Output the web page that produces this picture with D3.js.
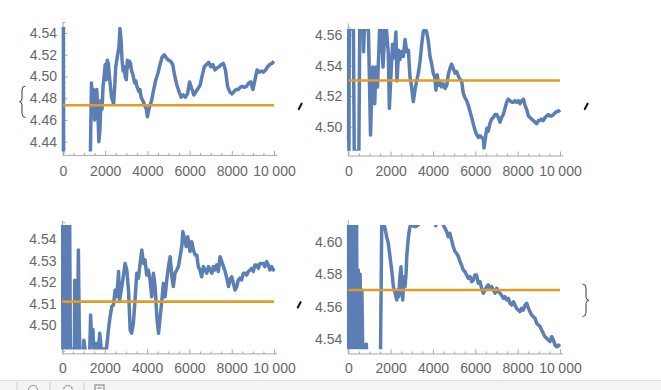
<!DOCTYPE html>
<html><head><meta charset="utf-8">
<script src="https://cdn.jsdelivr.net/npm/d3@7"></script>
<style>html,body{margin:0;padding:0;background:#fff;}svg{display:block;}</style>
</head><body>
<script>
// ---------- data ----------
const xTickValues = [0, 2000, 4000, 6000, 8000, 10000];
const yTicks1 = [4.44, 4.46, 4.48, 4.50, 4.52, 4.54];
const yTicks2 = [4.50, 4.52, 4.54, 4.56];
const yTicks3 = [4.50, 4.51, 4.52, 4.53, 4.54];
const yTicks4 = [4.54, 4.56, 4.58, 4.60];
const means = [4.4736, 4.5302, 4.511, 4.5703];

const p1x = [0,8,18,28,40,1250,1300,1350,1400,1450,1500,1550,1600,1650,1700,1750,1800,1850,1900,1950,2000,2050,2100,2150,2200,2300,2400,2450,2500,2600,2650,2700,2750,2800,2850,2900,2950,3000,3050,3100,3150,3200,3250,3300,3350,3400,3450,3500,3600,3650,3700,3800,3900,3950,4000,4050,4100,4200,4300,4400,4500,4600,4700,4800,4900,5000,5100,5200,5300,5400,5500,5600,5700,5800,5900,6000,6100,6200,6300,6400,6500,6600,6700,6800,6900,7000,7100,7200,7300,7400,7500,7600,7700,7800,7900,8000,8100,8200,8300,8400,8500,8600,8700,8800,8900,9000,9100,9200,9300,9400,9500,9600,9700,9800,9900,10000];
const p1y = [4.56,4.42,4.56,4.42,4.42,4.42,4.431,4.494,4.469,4.488,4.46,4.475,4.488,4.47,4.44,4.451,4.478,4.47,4.491,4.50,4.511,4.497,4.515,4.512,4.50,4.481,4.475,4.49,4.509,4.521,4.527,4.544,4.534,4.515,4.505,4.509,4.50,4.497,4.515,4.509,4.514,4.512,4.505,4.503,4.498,4.494,4.496,4.491,4.486,4.488,4.481,4.477,4.472,4.47,4.463,4.468,4.472,4.478,4.488,4.497,4.503,4.511,4.518,4.52,4.517,4.515,4.514,4.511,4.50,4.492,4.486,4.481,4.483,4.481,4.484,4.495,4.489,4.483,4.486,4.489,4.492,4.501,4.509,4.511,4.513,4.509,4.511,4.506,4.508,4.509,4.511,4.512,4.506,4.491,4.486,4.484,4.486,4.488,4.488,4.49,4.491,4.49,4.491,4.494,4.495,4.488,4.497,4.506,4.504,4.505,4.504,4.506,4.509,4.511,4.512,4.514];

const p2x = [0,15,30,45,240,280,500,540,700,720,760,950,1000,1050,1100,1150,1250,1300,1380,1480,1560,1640,1730,1800,1890,1940,2000,2090,2160,2250,2300,2380,2440,2520,2600,2680,2760,2840,2910,2990,3070,3150,3230,3310,3390,3470,3540,3620,3700,3780,3860,3940,4015,4090,4140,4200,4270,4330,4410,4490,4570,4650,4720,4800,4880,4960,5040,5120,5200,5275,5350,5430,5510,5590,5670,5750,5830,5900,5980,6060,6140,6220,6300,6380,6410,6460,6540,6610,6690,6770,6850,6930,7010,7090,7170,7240,7320,7400,7480,7560,7640,7720,7800,7870,7950,8030,8110,8190,8270,8350,8430,8510,8580,8660,8740,8820,8900,8980,9060,9130,9210,9290,9370,9450,9530,9610,9690,9760,9840,9920,10000];
const p2y = [4.49,4.564,4.484,4.564,4.564,4.484,4.484,4.564,4.564,4.549,4.564,4.564,4.53,4.4945,4.52,4.539,4.515,4.539,4.526,4.564,4.564,4.539,4.564,4.564,4.548,4.512,4.530,4.554,4.545,4.562,4.530,4.55,4.544,4.549,4.546,4.557,4.549,4.55,4.533,4.526,4.5164,4.524,4.530,4.535,4.543,4.554,4.562,4.564,4.562,4.556,4.546,4.541,4.535,4.532,4.524,4.534,4.527,4.529,4.526,4.528,4.525,4.527,4.534,4.538,4.541,4.538,4.535,4.536,4.533,4.531,4.530,4.522,4.519,4.517,4.514,4.510,4.506,4.502,4.498,4.495,4.493,4.494,4.493,4.492,4.486,4.491,4.499,4.497,4.502,4.505,4.506,4.508,4.508,4.506,4.503,4.506,4.508,4.512,4.516,4.518,4.517,4.516,4.516,4.517,4.516,4.517,4.515,4.517,4.518,4.514,4.511,4.507,4.506,4.505,4.504,4.503,4.502,4.504,4.504,4.505,4.504,4.506,4.507,4.508,4.507,4.507,4.508,4.509,4.510,4.510,4.511];

const p3x = [0,20,45,70,100,130,160,190,220,250,280,310,340,370,420,480,560,580,600,640,700,750,790,830,980,1010,1060,1100,1280,1330,1380,1440,1480,1520,1600,1640,1700,1760,1830,2080,2170,2250,2330,2410,2490,2570,2650,2700,2780,2850,2960,3040,3120,3200,3270,3350,3430,3510,3590,3670,3750,3830,3900,3980,4060,4140,4220,4300,4380,4460,4540,4620,4700,4770,4850,4930,5010,5090,5170,5240,5320,5400,5480,5560,5640,5690,5750,5850,5920,6030,6110,6190,6270,6350,6420,6500,6580,6660,6740,6820,6900,6980,7060,7130,7210,7290,7370,7450,7530,7610,7690,7770,7850,7920,8000,8080,8160,8240,8310,8390,8470,8550,8630,8710,8790,8870,8940,9020,9100,9180,9260,9340,9420,9490,9570,9650,9730,9810,9890,9970,10000];
const p3y = [4.55,4.485,4.55,4.485,4.55,4.485,4.55,4.485,4.55,4.485,4.55,4.485,4.547,4.489,4.489,4.485,4.485,4.521,4.49,4.485,4.485,4.535,4.50,4.485,4.485,4.493,4.4895,4.485,4.485,4.5048,4.492,4.498,4.486,4.489,4.4916,4.489,4.489,4.4963,4.489,4.489,4.4978,4.504,4.5087,4.5095,4.5164,4.5133,4.525,4.5118,4.5164,4.5211,4.5288,4.5257,4.5164,4.4978,4.4963,4.5009,4.5118,4.5242,4.5219,4.5288,4.535,4.5288,4.5304,4.5234,4.5257,4.5211,4.5133,4.5242,4.518,4.504,4.4963,4.504,4.5118,4.5195,4.5133,4.5211,4.5273,4.5319,4.5226,4.518,4.5242,4.5257,4.5273,4.5319,4.5366,4.5436,4.5412,4.5366,4.5412,4.5343,4.5389,4.535,4.5327,4.5327,4.5273,4.5257,4.5226,4.5273,4.5257,4.5242,4.5273,4.5257,4.5242,4.5273,4.5257,4.5281,4.525,4.5319,4.5296,4.5273,4.525,4.5219,4.518,4.5211,4.5226,4.5195,4.5164,4.518,4.5211,4.5219,4.5211,4.5242,4.5242,4.5234,4.525,4.5257,4.5265,4.525,4.5281,4.5281,4.5265,4.5288,4.5288,4.5288,4.5273,4.5296,4.5281,4.5257,4.5273,4.5257,4.5265];

const p4x = [0,15,35,60,90,120,150,180,210,240,270,300,340,390,420,470,520,560,600,640,680,720,780,850,880,1520,1580,1650,1720,1810,1890,1970,2050,2130,2210,2290,2330,2380,2440,2490,2520,2570,2630,2680,2730,2760,2840,2910,2990,3070,3150,3230,3300,3340,4100,4130,4160,4460,4490,4570,4650,4720,4800,4880,4960,5040,5120,5200,5280,5350,5430,5510,5590,5670,5750,5830,5900,5980,6060,6140,6220,6300,6380,6460,6540,6610,6690,6770,6850,6930,7010,7090,7170,7240,7320,7400,7480,7560,7640,7720,7800,7870,7950,8030,8110,8190,8270,8350,8430,8510,8580,8660,8740,8820,8900,8980,9060,9130,9210,9290,9370,9450,9530,9610,9690,9760,9840,9920,10000];
const p4y = [4.62,4.53,4.62,4.53,4.62,4.53,4.62,4.53,4.62,4.53,4.62,4.53,4.5339,4.612,4.535,4.5826,4.5339,4.58,4.5339,4.5703,4.5339,4.537,4.5339,4.537,4.53,4.53,4.612,4.6102,4.6092,4.6031,4.599,4.5908,4.5826,4.5724,4.5683,4.5642,4.5703,4.5662,4.5785,4.5846,4.5744,4.5642,4.5785,4.5724,4.5805,4.5908,4.6031,4.6092,4.6102,4.6096,4.6092,4.6096,4.6102,4.615,4.615,4.6098,4.615,4.615,4.6102,4.6082,4.6061,4.6031,4.6051,4.601,4.5969,4.5939,4.5928,4.5908,4.5877,4.5857,4.5826,4.5816,4.5795,4.5775,4.5785,4.5754,4.5764,4.5795,4.5795,4.5744,4.5754,4.5713,4.5683,4.5703,4.5724,4.5734,4.5713,4.5724,4.5703,4.5683,4.5713,4.5693,4.5683,4.5672,4.5652,4.5662,4.5642,4.5652,4.5621,4.5611,4.5631,4.5611,4.559,4.558,4.557,4.559,4.558,4.5611,4.5621,4.559,4.557,4.5549,4.5539,4.5529,4.5498,4.5488,4.5478,4.5457,4.5437,4.5416,4.5406,4.5396,4.5386,4.5416,4.5396,4.5365,4.5355,4.5365,4.5355];

// ---------- layout ----------
const W = 661, H = 390;
const BLUE = "#5b7fb5", ORANGE = "#e19c24", AXIS = "#a8a8a8", LABEL = "#666";
const panels = [
  {xs:p1x, ys:p1y, mean:means[0], yt:yTicks1, minor:0.005, xr:[63,274],   yd:[4.44,4.54], yr:[141.7,33],   clip:[4.431,4.5455], ax:[4.4274,4.5501], pad:11},
  {xs:p2x, ys:p2y, mean:means[1], yt:yTicks2, minor:0.005, xr:[348.3,560], yd:[4.50,4.56], yr:[126.7,35],   clip:[4.4843,4.5639], ax:[4.4808,4.5676], pad:10.5},
  {xs:p3x, ys:p3y, mean:means[2], yt:yTicks3, minor:0.002, xr:[62.5,274],  yd:[4.50,4.54], yr:[325.3,239.3], clip:[4.4888,4.5467], ax:[4.4867,4.5487], pad:9},
  {xs:p4x, ys:p4y, mean:means[3], yt:yTicks4, minor:0.005, xr:[348.3,560], yd:[4.54,4.60], yr:[339.3,241.7], clip:[4.5339,4.6102], ax:[4.531,4.6133], pad:9}
];

const svg = d3.select("body").append("svg").attr("width", W).attr("height", H)
  .style("font-family", "'Liberation Sans', Arial, sans-serif");
svg.append("rect").attr("width", W).attr("height", H).attr("fill", "#fff");
const defs = svg.append("defs");

const fmtX = d => d === 10000 ? "10\u2005000" : String(d);
const fmtY = d3.format(".2f");

panels.forEach((p, i) => {
  const x = d3.scaleLinear().domain([0, 10000]).range(p.xr);
  const y = d3.scaleLinear().domain(p.yd).range(p.yr);
  const g = svg.append("g");
  const yAxisBottom = y(p.ax[0]), yAxisTop = y(p.ax[1]);

  g.append("line").attr("x1", x(0)).attr("x2", x(10150)).attr("y1", yAxisBottom).attr("y2", yAxisBottom)
    .attr("stroke", AXIS).attr("stroke-width", 1);
  g.append("line").attr("x1", x(0)).attr("x2", x(0)).attr("y1", yAxisBottom).attr("y2", yAxisTop)
    .attr("stroke", AXIS).attr("stroke-width", 1);

  const xMinor = d3.range(0, 10001, 500).filter(v => !xTickValues.includes(v));
  const gxm = g.append("g").attr("transform", `translate(0,${yAxisBottom})`)
    .call(d3.axisBottom(x).tickValues(xMinor).tickSizeInner(-2.5).tickSizeOuter(0).tickFormat(""));
  const gx = g.append("g").attr("transform", `translate(0,${yAxisBottom})`)
    .call(d3.axisBottom(x).tickValues(xTickValues).tickSizeInner(-4.5).tickSizeOuter(0).tickPadding(p.pad).tickFormat(fmtX));

  const lo = Math.ceil(p.ax[0] / p.minor - 1e-6), hi = Math.floor(p.ax[1] / p.minor + 1e-6);
  const yMinor = d3.range(lo, hi + 1).map(k => +(k * p.minor).toFixed(4))
    .filter(v => !p.yt.some(t => Math.abs(t - v) < 1e-6));
  const gym = g.append("g").attr("transform", `translate(${x(0)},0)`)
    .call(d3.axisLeft(y).tickValues(yMinor).tickSizeInner(-2.5).tickSizeOuter(0).tickFormat(""));
  const gy = g.append("g").attr("transform", `translate(${x(0)},0)`)
    .call(d3.axisLeft(y).tickValues(p.yt).tickSizeInner(-4.5).tickSizeOuter(0).tickPadding(6).tickFormat(fmtY));

  [gxm, gx, gym, gy].forEach(a => {
    a.select(".domain").remove();
    a.selectAll(".tick line").attr("stroke", AXIS);
    a.selectAll("text").attr("fill", LABEL).attr("font-size", 14)
      .attr("font-family", "'Liberation Sans', Arial, sans-serif");
  });

  const cid = "clip" + i;
  defs.append("clipPath").attr("id", cid).append("rect")
    .attr("x", x(0) - 1.5).attr("width", x(10000) - x(0) + 3)
    .attr("y", y(p.clip[1])).attr("height", y(p.clip[0]) - y(p.clip[1]));

  const pts = p.xs.map((v, k) => [v, p.ys[k]]);
  g.append("path").datum(pts)
    .attr("clip-path", `url(#${cid})`)
    .attr("fill", "none").attr("stroke", BLUE).attr("stroke-width", 3.5)
    .attr("stroke-linejoin", "round")
    .attr("d", d3.line().x(d => x(d[0])).y(d => y(d[1])));

  g.append("line").attr("x1", x(0)).attr("x2", x(10000)).attr("y1", y(p.mean)).attr("y2", y(p.mean))
    .attr("stroke", ORANGE).attr("stroke-width", 2.6);
});

const deco = svg.append("g").attr("fill", "none").attr("stroke", "#3a3a3a").attr("stroke-width", 1);
deco.append("path").attr("d", "M25.5,86 Q22,86 22,90 L22,98.5 Q22,101.5 19.5,101.8 Q22,102.2 22,105 L22,113.5 Q22,117.5 25.5,117.5");
deco.append("path").attr("d", "M582.5,284 Q586,284 586,288 L586,297 Q586,300 588.8,300.3 Q586,300.7 586,303.5 L586,312.5 Q586,316.5 582.5,316.5");
[[300,106.5],[586,106.5],[299,305]].forEach(([cx, cy]) => {
  svg.append("path").attr("d", `M${cx+1.6},${cy-2.8} L${cx-1.2},${cy+2.6}`)
    .attr("stroke", "#1a1a1a").attr("stroke-width", 2.1).attr("stroke-linecap", "round");
});

const tb = svg.append("g");
tb.append("rect").attr("x", 0).attr("y", 380.5).attr("width", W).attr("height", 10).attr("fill", "#f4f4f4");
tb.append("line").attr("x1", 0).attr("x2", W).attr("y1", 380.5).attr("y2", 380.5).attr("stroke", "#dedede");
[17, 50, 84].forEach(sx => tb.append("line").attr("x1", sx).attr("x2", sx).attr("y1", 382).attr("y2", 390).attr("stroke", "#d0d0d0"));
tb.append("circle").attr("cx", 33).attr("cy", 390).attr("r", 4.5).attr("fill", "none").attr("stroke", "#9a9a9a").attr("stroke-width", 1.2);
tb.append("circle").attr("cx", 68).attr("cy", 390).attr("r", 4.5).attr("fill", "none").attr("stroke", "#9a9a9a").attr("stroke-width", 1.6).attr("stroke-dasharray", "2 1");
tb.append("rect").attr("x", 95).attr("y", 385).attr("width", 9).attr("height", 8).attr("fill", "none").attr("stroke", "#8a8a8a").attr("stroke-width", 1.2);
tb.append("line").attr("x1", 97).attr("x2", 102).attr("y1", 388).attr("y2", 388).attr("stroke", "#8a8a8a");
</script>
</body></html>
